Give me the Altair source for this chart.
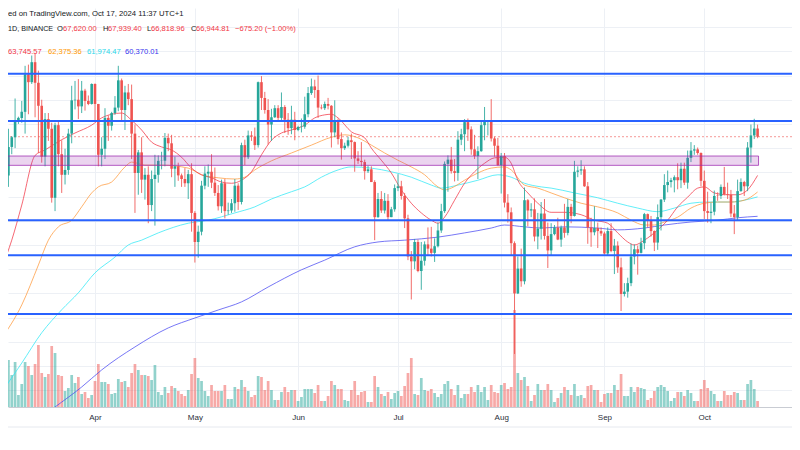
import altair as alt
import pandas as pd

# ---------------- data ----------------
dates = pd.date_range("2024-03-04", "2024-10-17", freq="D").strftime("%Y-%m-%d").tolist()

opens = [63100,68300,63750,66100,66900,68300,68500,69000,72100,71450,73100,71400,69500,65300,68400,67600,61900,67900,65500,63800,64200,67200,69950,70000,69450,70750,69900,69650,
         71300,69650,65450,65950,68500,67850,68900,69350,71600,69150,70600,70050,67200,63950,65650,63400,63800,61300,63450,63800,64940,64960,66850,66400,64300,64500,63750,63450,63100,63850,
         60650,58250,59100,62900,63900,64050,63150,62300,61200,63100,60800,60850,61450,62900,61550,66250,65250,67050,66950,66250,71450,70150,69150,67950,68550,69300,68500,69400,68350,67650,68350,
         67500,67750,67770,68800,70550,71100,70800,69350,69300,69650,69500,67300,68250,66750,66000,66200,66650,66500,65150,64950,64850,64100,64250,63200,60300,61800,60850,61650,60300,60950,
         62700,62850,62050,60200,57050,56650,58250,55850,56700,58050,57700,57350,57900,59200,60800,64700,65050,64100,63950,66700,67150,68150,67550,65900,65350,65750,67900,68200,68250,66800,66200,
         64600,65350,61500,60700,58150,54000,56050,55000,61700,60850,60950,58700,59350,60600,58750,57550,58900,59450,58450,59450,59000,61150,60400,64050,64150,64250,62850,59450,59050,59400,59150,
         58950,57300,59150,57500,57950,56150,53950,54150,54850,57050,57650,57350,58150,60550,60000,59150,58200,60300,61750,62950,63200,63350,63600,63350,64300,63150,65200,65800,65900,65600,
         63300,60800,60650,60750,62080,62050,62800,62200,62150,60600,60300,62450,63200,62850,66050,67050,67620]
highs = [68500,69170,67600,67000,70100,68600,69900,72800,72900,73650,73777,72400,70000,68900,68900,68100,68100,68200,66650,65950,67600,71150,71550,71700,71550,70900,70350,71350,
         71350,69650,66900,69300,68700,69000,70300,72800,71750,71150,71300,71250,67950,65850,66900,64350,64500,64150,65450,65400,65700,67250,67200,67100,65300,64800,63900,64350,64200,64750,
         60800,59600,63300,64500,64650,65500,64400,62950,63400,63450,61500,61800,63450,63100,66450,66700,67450,67400,67700,71500,71950,70650,70050,69250,69550,69550,70600,69550,68900,69500,69000,
         67850,68450,70250,71050,71750,71650,71997,69600,69850,70150,69550,69950,68450,67300,66450,66950,67200,66550,65750,66500,65050,64550,64500,63350,62300,62450,62300,62200,61150,63000,
         63850,63300,62300,60500,57500,58500,58450,58250,58300,59450,59500,58550,59850,61400,64900,65400,66100,65100,67400,67600,68400,68450,67800,67100,66150,68200,69400,68300,70050,66950,66850,
         65600,65600,62200,61100,58300,57050,57700,62750,61800,61450,61850,60650,61550,61800,59850,59800,59650,60250,59600,61400,61800,61400,64950,64500,65000,64500,63200,60250,61200,59850,59450,
         59100,59450,59800,58500,58300,56950,54850,55300,58100,58050,57950,58600,60650,60600,60400,59200,61350,61800,63850,64150,63550,63750,64750,64800,64800,65800,66500,66250,66050,65650,
         64150,62400,61500,62500,62350,63000,64450,63150,62550,61300,63400,63500,63300,66500,67950,68424,67939.4]
lows = [62300,59000,62800,65500,66000,68000,68100,67200,68800,71300,68550,65600,64800,64500,66600,61500,60800,64500,62300,63000,63800,66400,69200,68400,68900,69100,69550,69600,
        68200,64500,64500,65100,66600,67450,68750,69050,68200,67500,69550,65100,60650,62150,62300,61750,59800,60800,59600,63150,64250,64500,65750,63600,62800,63300,62800,62800,61800,59100,
        56550,56950,58800,62600,62800,62700,62050,60850,60650,60200,60500,60650,60750,60900,61350,64600,65100,66600,65850,66050,69150,68850,66300,66600,68500,68250,68250,67250,67100,67150,66650,
        67400,67300,67600,68550,70400,70150,68500,69200,69150,69200,66050,66900,66300,65050,65850,66050,65100,64050,64700,64500,63400,63950,63200,58400,60250,60650,60600,60050,60300,60750,
        62450,61750,59400,56750,53500,56000,55750,54300,56300,57150,57050,56600,57800,59000,60650,62400,63900,63250,63300,66250,65750,66600,65450,65100,63450,65700,66650,67050,66550,65300,64550,
        62250,61100,59850,57100,49000,53950,54550,54750,59550,60300,58300,57650,58450,58450,56100,57100,58800,58400,57850,58600,58800,59800,60350,63600,63800,62800,58100,57850,58800,57750,58750,
        57200,57150,57400,55600,55700,52550,53750,53650,54600,56400,55550,57300,57650,59450,58700,57500,57600,59200,61550,62350,62750,62350,62600,62700,62950,62650,64850,65450,65450,62850,
        60150,59850,59800,60450,61650,61800,62100,61800,60300,58900,60050,62400,62050,62450,64800,66750,66818.96]
closes = [68300,63750,66100,66900,68300,68500,69000,72100,71450,73100,71400,69500,65300,68400,67600,61900,67900,65500,63800,64200,67200,69950,70000,69450,70750,69900,69650,71300,
          69650,65450,65950,68500,67850,68900,69350,71600,69150,70600,70050,67200,63950,65650,63400,63800,61300,63450,63800,64950,64960,66850,66400,64300,64500,63750,63450,63100,63850,60650,
          58250,59100,62900,63900,64050,63150,62300,61200,63100,60800,60850,61450,62900,61550,66250,65250,67050,66950,66250,71450,70150,69150,67950,68550,69300,68500,69400,68350,67650,68350,67500,
          67750,67770,68800,70550,71100,70800,69350,69300,69650,69500,67300,68250,66750,66000,66200,66650,66500,65150,64950,64850,64100,64250,63200,60300,61800,60850,61650,60300,60950,62700,
          62850,62050,60200,57050,56650,58250,55850,56700,58050,57700,57350,57900,59200,60800,64700,65050,64100,63950,66700,67150,68150,67550,65900,65350,65750,67900,68200,68250,66800,66200,64600,
          65350,61500,60700,58150,54000,56050,55000,61700,60850,60950,58700,59350,60600,58750,57550,58900,59450,58450,59450,59000,61150,60400,64050,64150,64250,62850,59450,59050,59400,59150,58950,
          57300,59150,57500,57950,56150,53950,54150,54850,57050,57650,57350,58150,60550,60000,59150,58200,60300,61750,62950,63200,63350,63600,63350,64300,63150,65200,65800,65900,65600,63300,
          60800,60650,60750,62050,62050,62800,62200,62150,60600,60300,62450,63200,62850,66050,67050,67620,66944.81]
volumes = [51,80,47,32,45,12,23,45,41,32, 43,62,34,30,33,61,54,32,31,16, 19,32,24,30,13,15,9,12,26,43,
           25,25,23,13,14,28,25,26,20,34, 43,37,32,32,31,27,42,15,12,20, 14,21,19,16,13,11,17,33,49,29,
           26,16,11,22,16,16,16,22,8,8, 20,18,27,20,16,10,12,31,30,17, 26,17,7,7,15,20,15,17,17,6,
           10,18,18,18,14,22,6,6,11,26, 22,18,18,7,6,17,26,12,15,16, 5,5,31,20,13,11,15,8,14,16,
           11,21,34,49,13,12,29,17,16,18, 14,10,13,23,26,18,12,22,9,13, 13,20,15,22,15,20,7,22,15,14,
           22,24,18,20,97,34,27,30,21,6, 12,23,17,17,23,17,5,9,14,20, 17,12,23,11,12,9,21,22,17,17,
           5,13,14,14,22,17,33,11,11,20, 15,20,19,18,7,9,16,20,22,20, 16,6,9,15,15,11,17,14,6,6,
           18,27,19,16,13,6,6,16,12,12, 15,14,7,7,23,27,18,6]

# moving averages (day index into `dates`, value)
ma20_idx = [0,3,6,10,13,18,22,27,30,33,36,39,42,45,48,51,54,57,60,63,66,69,72,75,78,81,84,87,91,94,97,99,101,105,109,111,114,117,120,123,
            126,129,131,133,136,139,142,145,148,151,153,155,158,161,165,169,174,178,182,185,188,190,193,197,200,203,206,209,211,214,218,221,224,227]
ma20_val = [56100,58400,61300,65400,65850,66700,67250,67900,68500,68800,68900,68300,67500,66500,66100,65850,65250,64350,63800,63550,
            63200,63100,63350,64050,65450,66650,67250,67500,67900,68500,68750,68800,68500,67350,66850,66000,65000,63950,62550,61450,
            60650,60050,59800,60300,61700,63100,64050,64750,65200,65250,64750,63350,62300,61450,60700,60700,60500,60050,59800,59000,
            58250,58000,58400,59250,60050,61150,61950,62700,62800,62300,62150,62150,62550,63745.57]
ma50_idx = [0,6,11,14,17,21,24,27,29,33,37,39,43,48,56,60,65,70,73,76,81,87,93,99,103,107,111,115,119,123,127,131,133,135,139,143,147,151,153,157,
            161,165,169,174,179,185,189,193,196,199,203,207,211,215,219,223,227]
ma50_val = [50300,53050,56350,58400,59500,60050,61150,62300,62800,63200,64450,64850,64600,64600,64350,63800,63550,63450,63600,64200,
            64950,65600,66250,66900,67100,66850,66250,65600,65000,64450,63800,62800,62550,62700,63350,63950,64350,64450,64200,62950,
            62700,62300,61900,61450,61150,60650,60050,59650,59650,59900,60300,61050,61450,61550,61550,61700,62375.36]
ma100_idx = [0,6,12,18,23,28,34,38,42,47,56,62,70,76,81,87,91,96,101,105,111,117,123,129,132,137,143,149,153,157,162,165,172,179,185,191,197,202,207,212,219,223,227]
ma100_val = [45850,48250,50750,52650,54050,55700,57000,58000,58400,59000,59800,60050,60650,61150,61800,62400,62800,63600,64200,64450,
             64350,64050,63600,62950,62700,62950,63350,63800,63600,63100,62800,62700,62300,61900,61450,61050,60750,61050,61450,61550,
             61550,61700,61974.47]
ma200_idx = [10,16,24,30,40,50,58,65,72,80,90,97,106,113,121,131,139,147,151,157,162,169,179,185,193,199,207,215,221,227]
ma200_val = [43400,44620,46270,47680,49580,51150,51970,52630,53300,54530,55950,56750,57850,58250,58400,58650,59000,59400,59650,59500,
             59400,59500,59400,59250,59400,59650,59900,60050,60250,60370.01]

levels = [72150, 68250, 60050, 57150, 52300]
zone_start, zone_end = "2024-02-20", "2024-10-17T07:00:00Z"
zone_lo, zone_hi = 64580, 65350
grid_prices = list(range(46000, 78000, 2000))
month_ticks = [(2024, m) for m in range(4, 11)]

# ---------------- styles ----------------
FONT = "Liberation Sans"
UP, DOWN = "#26A69A", "#EF5350"
TXT = "#131722"
RED_T, ORG_T, CYA_T, BLU_T = "#F23645", "#FF9800", "#1FD8EA", "#3535EE"
W, H = 784, 399
PMIN, PMAX = 44619, 77576

base = pd.Timestamp("2024-03-04", tz="UTC")
x0 = int((base + pd.Timedelta(days=1.87)).value // 10**6)
x1 = int((base + pd.Timedelta(days=237.34)).value // 10**6)

df = pd.DataFrame({"date": dates, "open": opens, "high": highs, "low": lows,
                   "close": closes, "volume": volumes})
df["dir"] = ["up" if c >= o else "down" for o, c in zip(opens, closes)]

x_axis = alt.Axis(values=[alt.DateTime(year=y, month=m, date=1, utc=True) for y, m in month_ticks],
                  format="%b", labelFontSize=8, labelFont=FONT, labelColor="#2A2E39",
                  ticks=False, tickSize=0, domain=True, domainColor="#C9CCD3", domainWidth=1,
                  grid=True, gridColor="#EDF0F5", gridWidth=1, labelPadding=6, title=None,
                  labelOverlap=False, labelFlush=False)
xscale = alt.Scale(type="utc", domain=[x0, x1], padding=0, nice=False)
X = alt.X("date:T", scale=xscale, axis=x_axis, title=None)
y_axis = alt.Axis(values=grid_prices, labels=False, ticks=False, domain=False, grid=True,
                  gridColor="#EDF0F5", gridWidth=1, title=None)
yscale = alt.Scale(domain=[PMIN, PMAX], zero=False, nice=False, padding=0)
color = alt.Color("dir:N", scale=alt.Scale(domain=["up", "down"], range=[UP, DOWN]), legend=None)

vol = alt.Chart(df).mark_bar(size=2.7, opacity=0.5, clip=True).encode(
    x=X,
    y=alt.Y("volume:Q", scale=alt.Scale(domain=[0, 399], nice=False, padding=0), axis=None),
    color=color)

def ma_layer(idx, vals, col):
    d = pd.DataFrame({"date": [dates[i] for i in idx], "v": vals})
    return alt.Chart(d).mark_line(stroke=col, strokeWidth=1, opacity=0.75,
                                  interpolate="monotone", clip=True).encode(
        x=X, y=alt.Y("v:Q", scale=yscale, axis=y_axis))

wicks = alt.Chart(df).mark_rule(strokeWidth=1, opacity=0.85, clip=True).encode(
    x=X, y=alt.Y("low:Q", scale=yscale, axis=y_axis), y2="high:Q", color=color)
bodies = alt.Chart(df).mark_bar(size=2.6, clip=True).encode(
    x=X, y=alt.Y("open:Q", scale=yscale, axis=y_axis), y2="close:Q", color=color)

zone = alt.Chart(pd.DataFrame({"s": [zone_start], "e": [zone_end], "lo": [zone_lo], "hi": [zone_hi]})).mark_rect(
    fill="#9C27B0", fillOpacity=0.2, stroke="#9C27B0", strokeOpacity=0.75, strokeWidth=1, clip=True).encode(
    x=alt.X("s:T", scale=xscale, axis=x_axis, title=None),
    x2="e:T", y=alt.Y("lo:Q", scale=yscale, axis=y_axis), y2="hi:Q")

last_line = alt.Chart(pd.DataFrame({"p": [closes[-1]]})).mark_rule(
    stroke=DOWN, strokeDash=[2, 2], strokeWidth=1, opacity=0.6).encode(
    y=alt.Y("p:Q", scale=yscale, axis=y_axis))

level_rules = alt.Chart(pd.DataFrame({"p": levels})).mark_rule(
    stroke="#2962FF", strokeWidth=2).encode(y=alt.Y("p:Q", scale=yscale, axis=y_axis))

one = pd.DataFrame({"k": [0]})
def txt(s, x, y, col, align="left", size=7.6, weight="normal"):
    return alt.Chart(one).mark_text(align=align, baseline="alphabetic", font=FONT,
                                    fontSize=size, fontWeight=weight, color=col).encode(
        x=alt.value(x), y=alt.value(y), text=alt.value(s))

texts = [
    txt("ed on TradingView.com, Oct 17, 2024 11:37 UTC+1", 0, 7.5, TXT, size=7.7),
    txt("1D, BINANCE", 0, 23, TXT, size=7.2),
    txt("O", 49, 23, TXT), txt("67,620.00", 55, 23, RED_T),
    txt("H", 95, 23, TXT), txt("67,939.40", 100, 23, RED_T),
    txt("L", 139, 23, TXT), txt("66,818.96", 143, 23, RED_T),
    txt("C", 183, 23, TXT), txt("66,944.81", 188, 23, RED_T),
    txt("\u2212675.20 (\u22121.00%)", 227, 23, RED_T),
    txt("63,745.57", 0, 46, RED_T),
    txt("62,375.36", 40, 46, ORG_T),
    txt("61,974.47", 79, 46, CYA_T),
    txt("60,370.01", 117, 46, BLU_T),
]

bottom_line = alt.Chart(one).mark_rule(stroke="#E6E9EF", strokeWidth=1).encode(
    x=alt.value(0), x2=alt.value(W), y=alt.value(419))

price = alt.layer(
    ma_layer(ma200_idx, ma200_val, "#4A4AF2"),
    ma_layer(ma100_idx, ma100_val, "#2FE8F5"),
    ma_layer(ma50_idx, ma50_val, "#FF9A3C"),
    ma_layer(ma20_idx, ma20_val, "#F23645"),
    last_line,
    wicks,
    bodies,
    zone,
    level_rules,
    bottom_line,
    *texts,
)

chart = alt.layer(vol, price).resolve_scale(y="independent").properties(
    width=W, height=H,
    autosize=alt.AutoSizeParams(type="none"),
    padding={"left": 0, "top": 0, "right": 0, "bottom": 25},
    background="white",
).configure_view(stroke=None)

chart.save("out.html", embed_options={"renderer": "svg", "actions": False})
